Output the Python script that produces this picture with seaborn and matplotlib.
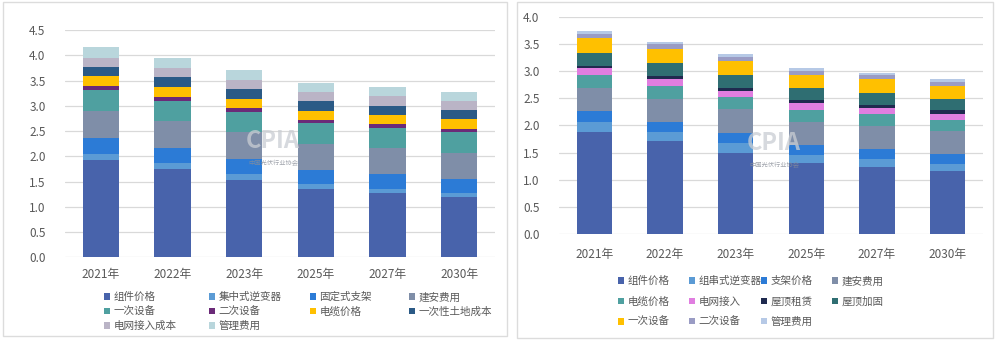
import numpy as np
import pandas as pd
import matplotlib
matplotlib.use("Agg")
import matplotlib.pyplot as plt
from matplotlib.patches import Patch, Rectangle
import seaborn as sns

# ---------------------------------------------------------------- data
years = ["2021年", "2022年", "2023年", "2025年", "2027年", "2030年"]

# Ground-mounted PV system cost breakdown (元/W)
gm_labels = ["组件价格", "集中式逆变器", "固定式支架", "建安费用", "一次设备",
             "二次设备", "电缆价格", "一次性土地成本", "电网接入成本", "管理费用"]
gm_module = [1.93, 1.75, 1.54, 1.35, 1.28, 1.20]
gm_inverter = [0.11, 0.11, 0.11, 0.10, 0.08, 0.08]
gm_bracket = [0.32, 0.30, 0.30, 0.28, 0.29, 0.28]
gm_install = [0.54, 0.53, 0.53, 0.51, 0.51, 0.51]
gm_primary = [0.41, 0.41, 0.40, 0.41, 0.40, 0.41]
gm_secondary = [0.08, 0.07, 0.08, 0.07, 0.08, 0.06]
gm_cable = [0.19, 0.20, 0.18, 0.18, 0.18, 0.19]
gm_land = [0.18, 0.19, 0.19, 0.19, 0.18, 0.18]
gm_grid = [0.19, 0.19, 0.19, 0.18, 0.19, 0.19]
gm_mgmt = [0.21, 0.19, 0.19, 0.19, 0.18, 0.17]

# Distributed (rooftop) PV system cost breakdown (元/W)
dp_labels = ["组件价格", "组串式逆变器", "支架价格", "建安费用", "电缆价格", "电网接入",
             "屋顶租赁", "屋顶加固", "一次设备", "二次设备", "管理费用"]
dp_module = [1.88, 1.71, 1.50, 1.31, 1.24, 1.16]
dp_inverter = [0.19, 0.17, 0.17, 0.15, 0.14, 0.14]
dp_bracket = [0.20, 0.19, 0.20, 0.18, 0.18, 0.18]
dp_install = [0.41, 0.42, 0.43, 0.42, 0.43, 0.41]
dp_cable = [0.25, 0.24, 0.22, 0.22, 0.22, 0.21]
dp_grid = [0.12, 0.12, 0.12, 0.13, 0.12, 0.12]
dp_rent = [0.05, 0.06, 0.05, 0.05, 0.05, 0.06]
dp_reinforce = [0.24, 0.23, 0.23, 0.22, 0.21, 0.20]
dp_primary = [0.26, 0.26, 0.27, 0.25, 0.26, 0.25]
dp_secondary = [0.08, 0.09, 0.07, 0.08, 0.07, 0.07]
dp_mgmt = [0.06, 0.04, 0.05, 0.04, 0.04, 0.05]

gm_colors = ["#4863ab", "#5b9bd5", "#2c7bd6", "#7f8ea8", "#4fa0a0",
             "#6b2a78", "#ffc000", "#2b5a86", "#bab4c6", "#b9d6dc"]
dp_colors = ["#4863ab", "#5b9bd5", "#2c7bd6", "#7f8ea8", "#4fa0a0", "#e07ee0",
             "#1f2a4f", "#2f6e72", "#ffc000", "#9a9cc4", "#b6c9e6"]

# ---------------------------------------------------------------- style
sns.set_theme(style="white")
plt.rcParams["font.family"] = ["Noto Sans CJK SC", "DejaVu Sans"]
TXT = "#595959"
GRID = "#d9d9d9"

fig = plt.figure(figsize=(10, 3.47), dpi=100)

# panel frames (kept underneath the axes)
for x0, x1, y0, y1 in [(3, 507, 2, 336), (517, 993, 2, 338)]:
    fig.patches.append(Rectangle((x0 / 1000, 1 - y1 / 347), (x1 - x0) / 1000,
                                 (y1 - y0) / 347, transform=fig.transFigure,
                                 facecolor="white", edgecolor="#dcdcdc",
                                 linewidth=1.0, zorder=-5))


def stacked(ax, series, colors, width, ymax):
    tops = np.cumsum(np.array(series, dtype=float), axis=0)
    # draw the tallest cumulative layer first, smaller ones over it
    for i in range(len(series) - 1, -1, -1):
        df = pd.DataFrame({"year": years, "top": tops[i]})
        sns.barplot(data=df, x="year", y="top", order=years, color=colors[i],
                    saturation=1, width=width, errorbar=None, linewidth=0,
                    ax=ax)
    ax.set_ylim(0, ymax)
    ax.set_xlim(-0.5, len(years) - 0.5)
    ticks = np.arange(0, ymax + 0.01, 0.5)
    ax.set_yticks(ticks)
    ax.set_yticklabels([f"{v:.1f}" for v in ticks])
    ax.yaxis.grid(True, color=GRID, linewidth=0.9)
    ax.xaxis.grid(False)
    ax.set_axisbelow(True)
    for s in ax.spines.values():
        s.set_visible(False)
    ax.set_xlabel("")
    ax.set_ylabel("")
    ax.tick_params(length=0, labelsize=8.5, labelcolor=TXT)
    ax.patch.set_alpha(0)


def column_legends(labels, colors, cols, xs, ytop, spacing):
    for col, x in zip(cols, xs):
        handles = [Patch(facecolor=colors[i], edgecolor="none") for i in col]
        fig.legend(handles, [labels[i] for i in col], loc="upper left",
                   bbox_to_anchor=(x / 1000, ytop), frameon=False,
                   fontsize=7.6, labelcolor=TXT, handlelength=0.55,
                   handleheight=0.55, handletextpad=0.35, labelspacing=spacing,
                   borderpad=0, borderaxespad=0)


# ---------------------------------------------------------------- left chart
axl = fig.add_axes([0.065, 0.2585, 0.43, 0.655])
stacked(axl, [gm_module, gm_inverter, gm_bracket, gm_install, gm_primary,
              gm_secondary, gm_cable, gm_land, gm_grid, gm_mgmt],
        gm_colors, 0.51, 4.5)
axl.tick_params(axis="y", pad=14)
axl.tick_params(axis="x", pad=8)
column_legends(gm_labels, gm_colors, [[0, 4, 8], [1, 5, 9], [2, 6], [3, 7]],
               [104, 209, 310, 409], 1 - 292 / 347, 0.42)

# ---------------------------------------------------------------- right chart
axr = fig.add_axes([0.559, 0.3248, 0.424, 0.6271])
stacked(axr, [dp_module, dp_inverter, dp_bracket, dp_install, dp_cable,
              dp_grid, dp_rent, dp_reinforce, dp_primary, dp_secondary, dp_mgmt],
        dp_colors, 0.50, 4.0)
axr.tick_params(axis="y", pad=14)
axr.tick_params(axis="x", pad=10)
column_legends(dp_labels, dp_colors, [[0, 4, 8], [1, 5, 9], [2, 6, 10], [3, 7]],
               [618, 689, 761, 832], 1 - 276 / 347, 0.98)

# association watermark
for x, y in [(273, 141), (774, 143)]:
    fig.text(x / 1000, 1 - y / 347, "CPIA", fontsize=17, fontweight="bold",
             color="#c9cdd3", alpha=0.75, ha="center", va="center", zorder=20)
    fig.text(x / 1000, 1 - (y + 22) / 347, "中国光伏行业协会", fontsize=4.5,
             color="#8a8f99", alpha=0.8, ha="center", va="center", zorder=20)

fig.savefig("out.png", dpi=100, facecolor="white")
